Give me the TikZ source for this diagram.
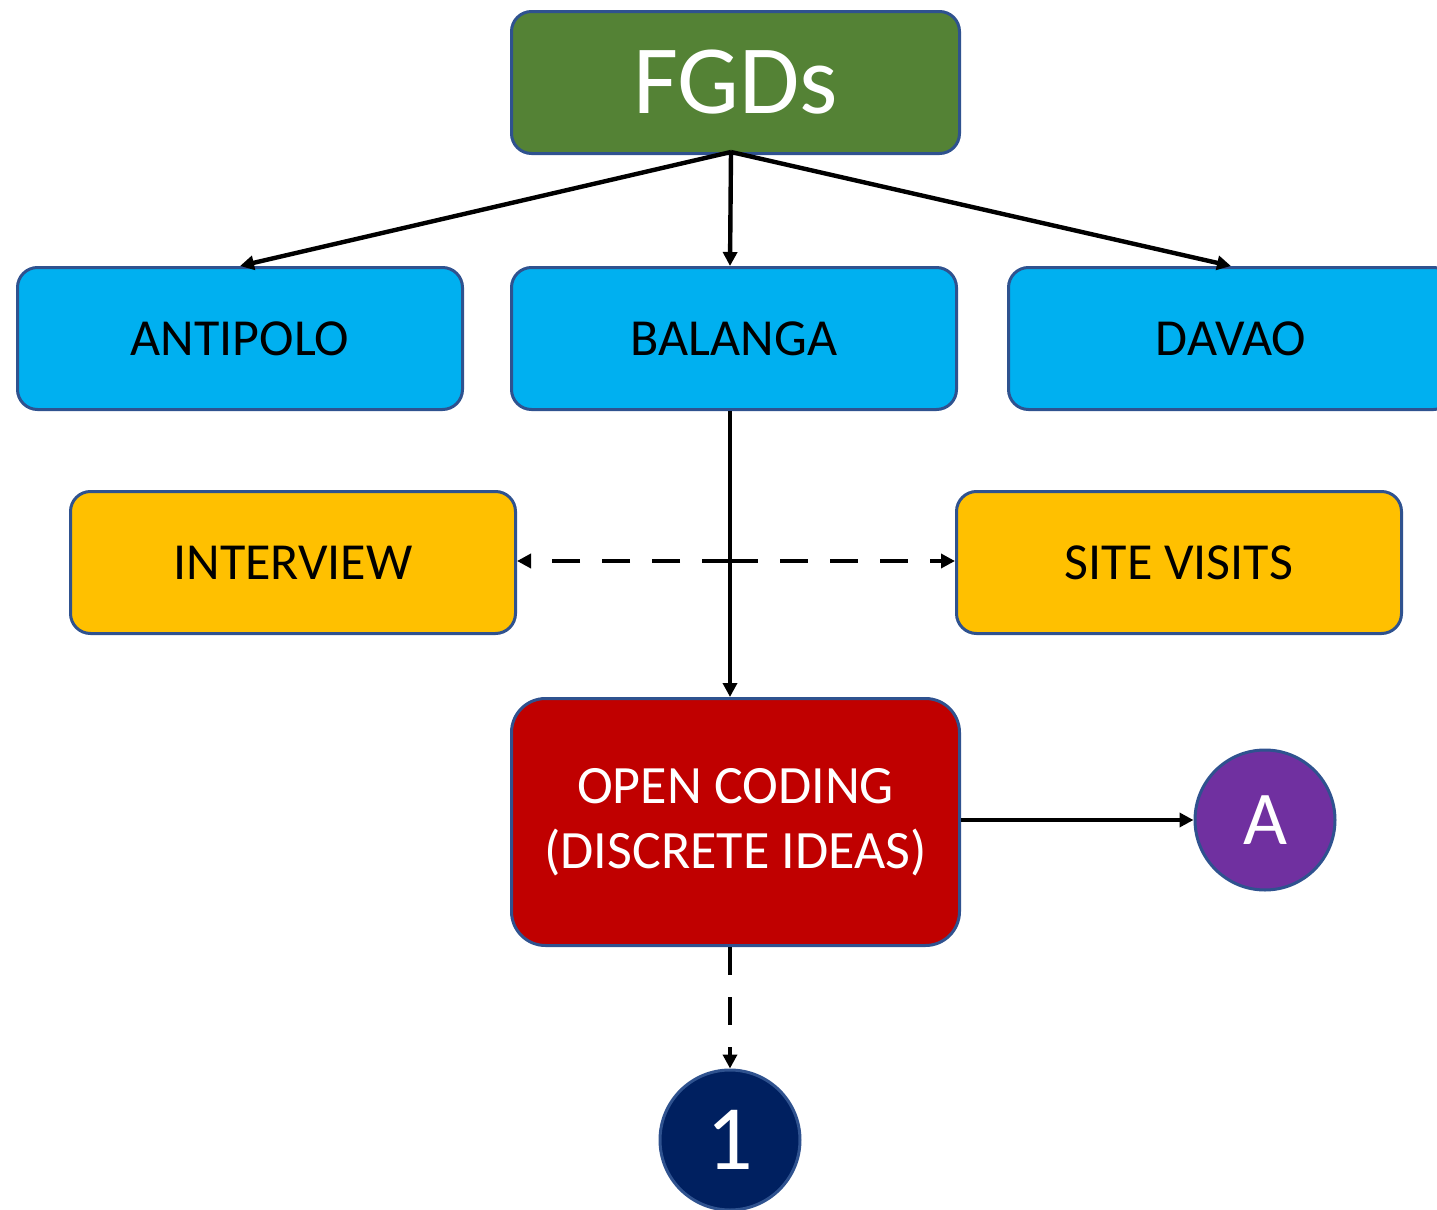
\documentclass[tikz,border=0pt]{standalone}
\usepackage{fontspec}
\setmainfont{Carlito}
\usetikzlibrary{arrows.meta}
\definecolor{bord}{HTML}{2F528F}
\definecolor{fgd}{HTML}{548235}
\definecolor{cyanbox}{HTML}{00B0F0}
\definecolor{goldbox}{HTML}{FFC000}
\definecolor{redbox}{HTML}{C00000}
\definecolor{purp}{HTML}{7030A0}
\definecolor{navy}{HTML}{002060}
\tikzset{
  box/.style={draw=bord, line width=1.5pt, rounded corners=10pt, minimum width=222.5pt, minimum height=71pt, inner sep=0pt, text=black, font=\fontsize{26}{30}\selectfont, anchor=north west},
  circ/.style={circle, draw=bord, line width=1.5pt, minimum size=70pt, inner sep=0pt, text=white},
  conn/.style={line width=2.2pt, -{Triangle[length=7pt,width=7pt]}},
  dconn/.style={conn, dash pattern=on 14pt off 11pt},
}
\begin{document}
\begin{tikzpicture}[x=0.5pt,y=-0.5pt]
\useasboundingbox (0,0) rectangle (1437,1210);
\node[box, fill=fgd, text=white, minimum width=224pt, font=\fontsize{49}{55}\selectfont] (fgd) at (510,10) {FGDs};
\node[box, fill=cyanbox] (ant) at (16,266) {ANTIPOLO};
\node[box, fill=cyanbox] (bal) at (510,266) {BALANGA};
\node[box, fill=cyanbox] (dav) at (1007,266) {DAVAO};
\node[box, fill=goldbox] (int) at (69,490) {INTERVIEW};
\node[box, fill=goldbox] (site) at (955,490) {SITE VISITS};
\node[box, fill=redbox, text=white, minimum width=224pt, minimum height=123.5pt, rounded corners=17pt, align=center, font=\fontsize{27}{32.5}\selectfont] (open) at (510,697) {OPEN CODING\\(DISCRETE IDEAS)};
\node[circ, fill=purp, font=\fontsize{38}{42}\selectfont] (A) at (1265,820) {A};
\node[circ, fill=navy, font=\fontsize{46}{50}\selectfont] (one) at (730,1140) {1};
\coordinate (fb) at (731,152);
\coordinate (mid) at (730,561);
\draw[conn] (fb) -- (ant.north);
\draw[conn] (fb) -- (bal.north -| mid);
\draw[conn] (fb) -- (dav.north);
\draw[conn] (bal.south -| mid) -- (open.north -| mid);
\draw[dconn] (mid) -- (int.east |- mid);
\draw[dconn] (mid) -- (site.west |- mid);
\draw[conn] (open.east |- A) -- (A.west);
\draw[dconn] (open.south -| mid) -- (one.north);
\end{tikzpicture}
\end{document}
